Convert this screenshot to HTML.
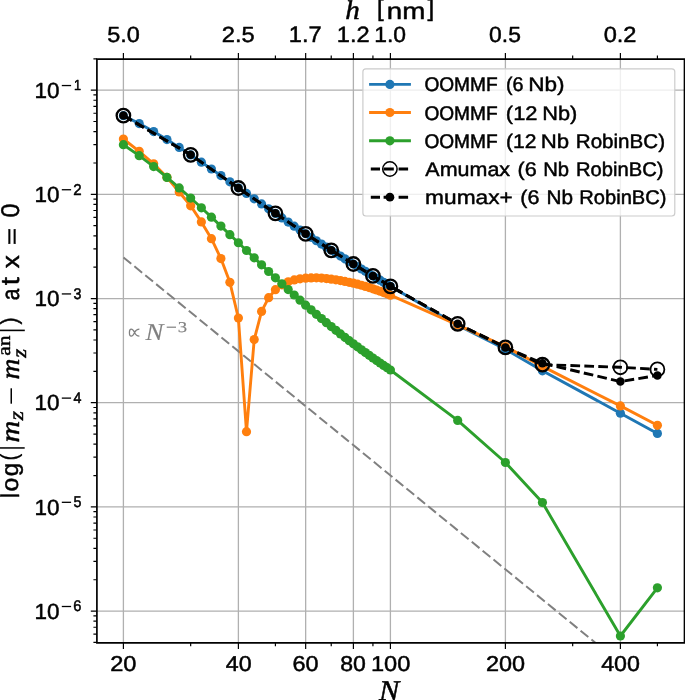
<!DOCTYPE html><html><head><meta charset="utf-8"><style>html,body{margin:0;padding:0;background:#fff;}svg{display:block}</style></head><body>
<svg width="685" height="700" viewBox="0 0 685 700" text-rendering="geometricPrecision">
<rect x="0" y="0" width="685" height="700" fill="#fff"/><g opacity="0.999">
<defs><clipPath id="ax"><rect x="96.9" y="59.05" width="587.6" height="583.8000000000001"/></clipPath></defs>
<path d="M123.4 59.05V642.85M238.39 59.05V642.85M305.66 59.05V642.85M353.39 59.05V642.85M390.41 59.05V642.85M505.4 59.05V642.85M620.39 59.05V642.85M96.9 90.15H684.5M96.9 194.34H684.5M96.9 298.53H684.5M96.9 402.72H684.5M96.9 506.91H684.5M96.9 611.1H684.5" stroke="#b0b0b0" stroke-width="1.3" fill="none"/>
<g clip-path="url(#ax)">
<path d="M123.5 257.45L700 728.22" stroke="#808080" stroke-width="2.0" stroke-dasharray="10.0 4.05" fill="none"/>
<g fill="#fff"><circle cx="123.4" cy="115.6" r="7.6"/><circle cx="190.67" cy="154.8" r="7.6"/><circle cx="238.39" cy="188" r="7.6"/><circle cx="275.41" cy="213.3" r="7.6"/><circle cx="305.66" cy="233.8" r="7.6"/><circle cx="331.23" cy="250.3" r="7.6"/><circle cx="353.39" cy="264" r="7.6"/><circle cx="372.93" cy="275.9" r="7.6"/><circle cx="390.41" cy="286.3" r="7.6"/><circle cx="457.67" cy="323.8" r="7.6"/><circle cx="505.4" cy="347.4" r="7.6"/><circle cx="542.42" cy="364.6" r="7.6"/></g>
<polyline points="123.4,115.63 139.21,123.53 153.65,131.59 166.93,139.59 179.22,147.39 190.67,154.91 201.37,162.13 211.43,169.02 220.91,175.59 229.88,181.84 238.39,187.78 246.49,193.43 254.21,198.81 261.58,203.93 268.64,208.8 275.41,213.45 281.92,217.88 288.18,222.12 294.21,226.17 300.04,230.04 305.66,233.76 311.1,237.32 316.37,240.74 321.47,244.03 326.42,247.2 331.23,250.26 335.91,253.2 340.45,256.05 344.88,258.8 349.19,261.47 353.39,264.05 357.48,266.55 361.48,268.98 365.38,271.35 369.2,273.65 372.93,275.88 376.57,278.07 380.14,280.2 383.63,282.28 387.05,284.31 390.41,286.3 457.67,325.3 505.4,349.3 542.42,370.8 620.39,413.2 657.41,433.4" stroke="#1f77b4" stroke-width="2.9" fill="none" stroke-linejoin="round"/>
<g fill="#1f77b4"><circle cx="123.4" cy="115.63" r="4.6"/><circle cx="139.21" cy="123.53" r="4.6"/><circle cx="153.65" cy="131.59" r="4.6"/><circle cx="166.93" cy="139.59" r="4.6"/><circle cx="179.22" cy="147.39" r="4.6"/><circle cx="190.67" cy="154.91" r="4.6"/><circle cx="201.37" cy="162.13" r="4.6"/><circle cx="211.43" cy="169.02" r="4.6"/><circle cx="220.91" cy="175.59" r="4.6"/><circle cx="229.88" cy="181.84" r="4.6"/><circle cx="238.39" cy="187.78" r="4.6"/><circle cx="246.49" cy="193.43" r="4.6"/><circle cx="254.21" cy="198.81" r="4.6"/><circle cx="261.58" cy="203.93" r="4.6"/><circle cx="268.64" cy="208.8" r="4.6"/><circle cx="275.41" cy="213.45" r="4.6"/><circle cx="281.92" cy="217.88" r="4.6"/><circle cx="288.18" cy="222.12" r="4.6"/><circle cx="294.21" cy="226.17" r="4.6"/><circle cx="300.04" cy="230.04" r="4.6"/><circle cx="305.66" cy="233.76" r="4.6"/><circle cx="311.1" cy="237.32" r="4.6"/><circle cx="316.37" cy="240.74" r="4.6"/><circle cx="321.47" cy="244.03" r="4.6"/><circle cx="326.42" cy="247.2" r="4.6"/><circle cx="331.23" cy="250.26" r="4.6"/><circle cx="335.91" cy="253.2" r="4.6"/><circle cx="340.45" cy="256.05" r="4.6"/><circle cx="344.88" cy="258.8" r="4.6"/><circle cx="349.19" cy="261.47" r="4.6"/><circle cx="353.39" cy="264.05" r="4.6"/><circle cx="357.48" cy="266.55" r="4.6"/><circle cx="361.48" cy="268.98" r="4.6"/><circle cx="365.38" cy="271.35" r="4.6"/><circle cx="369.2" cy="273.65" r="4.6"/><circle cx="372.93" cy="275.88" r="4.6"/><circle cx="376.57" cy="278.07" r="4.6"/><circle cx="380.14" cy="280.2" r="4.6"/><circle cx="383.63" cy="282.28" r="4.6"/><circle cx="387.05" cy="284.31" r="4.6"/><circle cx="390.41" cy="286.3" r="4.6"/><circle cx="457.67" cy="325.3" r="4.6"/><circle cx="505.4" cy="349.3" r="4.6"/><circle cx="542.42" cy="370.8" r="4.6"/><circle cx="620.39" cy="413.2" r="4.6"/><circle cx="657.41" cy="433.4" r="4.6"/></g>
<polyline points="123.4,139 139.21,151.3 153.65,163.8 166.93,177.3 179.22,192 190.67,205.8 201.37,221.9 211.43,238.7 220.91,258.6 229.88,282.3 238.39,318.1 246.49,431.7 254.21,339.6 261.58,311.4 268.64,297.7 275.41,289.7 281.92,284.8 288.18,281.8 294.21,279.9 300.04,278.8 305.66,278.2 311.1,277.92 316.37,277.8 321.47,278.04 326.42,278.59 331.23,279.2 335.91,279.84 340.45,280.58 344.88,281.41 349.19,282.29 353.39,283.2 357.48,284.19 361.48,285.27 365.38,286.42 369.2,287.61 372.93,288.8 376.57,290.01 380.14,291.27 383.63,292.55 387.05,293.87 390.41,295.2 457.67,324.8 505.4,346.6 542.42,366.4 620.39,405.9 657.41,425.3" stroke="#ff7f0e" stroke-width="2.9" fill="none" stroke-linejoin="round"/>
<g fill="#ff7f0e"><circle cx="123.4" cy="139" r="4.6"/><circle cx="139.21" cy="151.3" r="4.6"/><circle cx="153.65" cy="163.8" r="4.6"/><circle cx="166.93" cy="177.3" r="4.6"/><circle cx="179.22" cy="192" r="4.6"/><circle cx="190.67" cy="205.8" r="4.6"/><circle cx="201.37" cy="221.9" r="4.6"/><circle cx="211.43" cy="238.7" r="4.6"/><circle cx="220.91" cy="258.6" r="4.6"/><circle cx="229.88" cy="282.3" r="4.6"/><circle cx="238.39" cy="318.1" r="4.6"/><circle cx="246.49" cy="431.7" r="4.6"/><circle cx="254.21" cy="339.6" r="4.6"/><circle cx="261.58" cy="311.4" r="4.6"/><circle cx="268.64" cy="297.7" r="4.6"/><circle cx="275.41" cy="289.7" r="4.6"/><circle cx="281.92" cy="284.8" r="4.6"/><circle cx="288.18" cy="281.8" r="4.6"/><circle cx="294.21" cy="279.9" r="4.6"/><circle cx="300.04" cy="278.8" r="4.6"/><circle cx="305.66" cy="278.2" r="4.6"/><circle cx="311.1" cy="277.92" r="4.6"/><circle cx="316.37" cy="277.8" r="4.6"/><circle cx="321.47" cy="278.04" r="4.6"/><circle cx="326.42" cy="278.59" r="4.6"/><circle cx="331.23" cy="279.2" r="4.6"/><circle cx="335.91" cy="279.84" r="4.6"/><circle cx="340.45" cy="280.58" r="4.6"/><circle cx="344.88" cy="281.41" r="4.6"/><circle cx="349.19" cy="282.29" r="4.6"/><circle cx="353.39" cy="283.2" r="4.6"/><circle cx="357.48" cy="284.19" r="4.6"/><circle cx="361.48" cy="285.27" r="4.6"/><circle cx="365.38" cy="286.42" r="4.6"/><circle cx="369.2" cy="287.61" r="4.6"/><circle cx="372.93" cy="288.8" r="4.6"/><circle cx="376.57" cy="290.01" r="4.6"/><circle cx="380.14" cy="291.27" r="4.6"/><circle cx="383.63" cy="292.55" r="4.6"/><circle cx="387.05" cy="293.87" r="4.6"/><circle cx="390.41" cy="295.2" r="4.6"/><circle cx="457.67" cy="324.8" r="4.6"/><circle cx="505.4" cy="346.6" r="4.6"/><circle cx="542.42" cy="366.4" r="4.6"/><circle cx="620.39" cy="405.9" r="4.6"/><circle cx="657.41" cy="425.3" r="4.6"/></g>
<polyline points="123.4,144.69 139.21,155.66 153.65,166.61 166.93,177.39 179.22,187.88 190.67,198.03 201.37,207.8 211.43,217.16 220.91,226.11 229.88,234.64 238.39,242.77 246.49,250.51 254.21,257.87 261.58,264.87 268.64,271.52 275.41,277.84 281.92,283.86 288.18,289.57 294.21,295.02 300.04,300.2 305.66,305.13 311.1,309.83 316.37,314.32 321.47,318.6 326.42,322.68 331.23,326.59 335.91,330.33 340.45,333.92 344.88,337.35 349.19,340.65 353.39,343.81 357.48,346.86 361.48,349.79 365.38,352.62 369.2,355.34 372.93,357.98 376.57,360.53 380.14,363 383.63,365.39 387.05,367.72 390.41,369.98 457.67,420.4 505.4,462.5 542.42,502.6 620.39,636 657.41,587.8" stroke="#2ca02c" stroke-width="2.9" fill="none" stroke-linejoin="round"/>
<g fill="#2ca02c"><circle cx="123.4" cy="144.69" r="4.6"/><circle cx="139.21" cy="155.66" r="4.6"/><circle cx="153.65" cy="166.61" r="4.6"/><circle cx="166.93" cy="177.39" r="4.6"/><circle cx="179.22" cy="187.88" r="4.6"/><circle cx="190.67" cy="198.03" r="4.6"/><circle cx="201.37" cy="207.8" r="4.6"/><circle cx="211.43" cy="217.16" r="4.6"/><circle cx="220.91" cy="226.11" r="4.6"/><circle cx="229.88" cy="234.64" r="4.6"/><circle cx="238.39" cy="242.77" r="4.6"/><circle cx="246.49" cy="250.51" r="4.6"/><circle cx="254.21" cy="257.87" r="4.6"/><circle cx="261.58" cy="264.87" r="4.6"/><circle cx="268.64" cy="271.52" r="4.6"/><circle cx="275.41" cy="277.84" r="4.6"/><circle cx="281.92" cy="283.86" r="4.6"/><circle cx="288.18" cy="289.57" r="4.6"/><circle cx="294.21" cy="295.02" r="4.6"/><circle cx="300.04" cy="300.2" r="4.6"/><circle cx="305.66" cy="305.13" r="4.6"/><circle cx="311.1" cy="309.83" r="4.6"/><circle cx="316.37" cy="314.32" r="4.6"/><circle cx="321.47" cy="318.6" r="4.6"/><circle cx="326.42" cy="322.68" r="4.6"/><circle cx="331.23" cy="326.59" r="4.6"/><circle cx="335.91" cy="330.33" r="4.6"/><circle cx="340.45" cy="333.92" r="4.6"/><circle cx="344.88" cy="337.35" r="4.6"/><circle cx="349.19" cy="340.65" r="4.6"/><circle cx="353.39" cy="343.81" r="4.6"/><circle cx="357.48" cy="346.86" r="4.6"/><circle cx="361.48" cy="349.79" r="4.6"/><circle cx="365.38" cy="352.62" r="4.6"/><circle cx="369.2" cy="355.34" r="4.6"/><circle cx="372.93" cy="357.98" r="4.6"/><circle cx="376.57" cy="360.53" r="4.6"/><circle cx="380.14" cy="363" r="4.6"/><circle cx="383.63" cy="365.39" r="4.6"/><circle cx="387.05" cy="367.72" r="4.6"/><circle cx="390.41" cy="369.98" r="4.6"/><circle cx="457.67" cy="420.4" r="4.6"/><circle cx="505.4" cy="462.5" r="4.6"/><circle cx="542.42" cy="502.6" r="4.6"/><circle cx="620.39" cy="636" r="4.6"/><circle cx="657.41" cy="587.8" r="4.6"/></g>
<polyline points="123.4,115.6 190.67,154.8 238.39,188 275.41,213.3 305.66,233.8 331.23,250.3 353.39,264 372.93,275.9 390.41,286.3 457.67,323.8 505.4,347.4 542.42,364.6 620.39,367.3 657.41,369.4" stroke="#000" stroke-width="2.9" fill="none" stroke-dasharray="9.7 4.25"/>
<g fill="none" stroke="#000" stroke-width="2.3"><circle cx="123.4" cy="115.6" r="6.75"/><circle cx="190.67" cy="154.8" r="6.75"/><circle cx="238.39" cy="188" r="6.75"/><circle cx="275.41" cy="213.3" r="6.75"/><circle cx="305.66" cy="233.8" r="6.75"/><circle cx="331.23" cy="250.3" r="6.75"/><circle cx="353.39" cy="264" r="6.75"/><circle cx="372.93" cy="275.9" r="6.75"/><circle cx="390.41" cy="286.3" r="6.75"/><circle cx="457.67" cy="323.8" r="6.75"/><circle cx="505.4" cy="347.4" r="6.75"/><circle cx="542.42" cy="364.6" r="6.75"/></g>
<g fill="none" stroke="#000" stroke-width="1.8"><circle cx="620.39" cy="367.3" r="6.95"/><circle cx="657.41" cy="369.4" r="6.95"/></g>
<polyline points="123.4,115.6 190.67,154.8 238.39,188 275.41,213.3 305.66,233.8 331.23,250.3 353.39,264 372.93,275.9 390.41,286.3 457.67,323.8 505.4,347.4 542.42,363.2 620.39,381.6 657.41,375.4" stroke="#000" stroke-width="2.9" fill="none" stroke-dasharray="9.7 4.25"/>
<g fill="#000"><circle cx="123.4" cy="115.6" r="4.25"/><circle cx="190.67" cy="154.8" r="4.25"/><circle cx="238.39" cy="188" r="4.25"/><circle cx="275.41" cy="213.3" r="4.25"/><circle cx="305.66" cy="233.8" r="4.25"/><circle cx="331.23" cy="250.3" r="4.25"/><circle cx="353.39" cy="264" r="4.25"/><circle cx="372.93" cy="275.9" r="4.25"/><circle cx="390.41" cy="286.3" r="4.25"/><circle cx="457.67" cy="323.8" r="4.25"/><circle cx="505.4" cy="347.4" r="4.25"/><circle cx="542.42" cy="363.2" r="4.25"/><circle cx="620.39" cy="381.6" r="4.25"/><circle cx="657.41" cy="375.4" r="4.25"/></g>
</g>
<rect x="362.9" y="68.8" width="311.9" height="147.2" rx="3" ry="3" fill="#fff" fill-opacity="0.8" stroke="#cccccc" stroke-width="1.2"/>
<path d="M369.1 84.4H410.9" stroke="#1f77b4" stroke-width="2.9"/><circle cx="389.9" cy="84.4" r="4.6" fill="#1f77b4"/>
<path d="M369.1 112.5H410.9" stroke="#ff7f0e" stroke-width="2.9"/><circle cx="389.9" cy="112.5" r="4.6" fill="#ff7f0e"/>
<path d="M369.1 140.8H410.9" stroke="#2ca02c" stroke-width="2.9"/><circle cx="389.9" cy="140.8" r="4.6" fill="#2ca02c"/>
<path d="M370.8 169.0H380M383.6 169.0H393.8M398.6 169.0H408.1" stroke="#000" stroke-width="2.9"/>
<circle cx="389.9" cy="169.0" r="7.2" fill="none" stroke="#000" stroke-width="1.5"/>
<path d="M370.8 197.2H380M383.6 197.2H393.8M398.6 197.2H408.1" stroke="#000" stroke-width="2.9"/>
<circle cx="389.9" cy="197.2" r="4.4" fill="#000"/>
<path d="M96.9 59.05V642.85H684.5V59.05Z" stroke="#000" stroke-width="1.7" fill="none"/>
<path d="M123.4 642.85v6.1M123.4 59.05v-6.1M238.39 642.85v6.1M238.39 59.05v-6.1M305.66 642.85v6.1M305.66 59.05v-6.1M353.39 642.85v6.1M353.39 59.05v-6.1M390.41 642.85v6.1M390.41 59.05v-6.1M505.4 642.85v6.1M505.4 59.05v-6.1M620.39 642.85v6.1M620.39 59.05v-6.1M190.67 642.85v3.5M190.67 59.05v-3.5M275.41 642.85v3.5M275.41 59.05v-3.5M331.23 642.85v3.5M331.23 59.05v-3.5M372.93 642.85v3.5M372.93 59.05v-3.5M572.67 642.85v3.5M572.67 59.05v-3.5M657.41 642.85v3.5M657.41 59.05v-3.5M96.9 90.15h-6.1M96.9 194.34h-6.1M96.9 298.53h-6.1M96.9 402.72h-6.1M96.9 506.91h-6.1M96.9 611.1h-6.1M96.9 642.46h-3.5M96.9 634.21h-3.5M96.9 627.24h-3.5M96.9 621.2h-3.5M96.9 615.87h-3.5M96.9 579.74h-3.5M96.9 561.39h-3.5M96.9 548.37h-3.5M96.9 538.27h-3.5M96.9 530.02h-3.5M96.9 523.05h-3.5M96.9 517.01h-3.5M96.9 511.68h-3.5M96.9 475.55h-3.5M96.9 457.2h-3.5M96.9 444.18h-3.5M96.9 434.08h-3.5M96.9 425.83h-3.5M96.9 418.86h-3.5M96.9 412.82h-3.5M96.9 407.49h-3.5M96.9 371.36h-3.5M96.9 353.01h-3.5M96.9 339.99h-3.5M96.9 329.89h-3.5M96.9 321.64h-3.5M96.9 314.67h-3.5M96.9 308.63h-3.5M96.9 303.3h-3.5M96.9 267.17h-3.5M96.9 248.82h-3.5M96.9 235.8h-3.5M96.9 225.7h-3.5M96.9 217.45h-3.5M96.9 210.48h-3.5M96.9 204.44h-3.5M96.9 199.11h-3.5M96.9 162.98h-3.5M96.9 144.63h-3.5M96.9 131.61h-3.5M96.9 121.51h-3.5M96.9 113.26h-3.5M96.9 106.29h-3.5M96.9 100.25h-3.5M96.9 94.92h-3.5M96.9 58.79h-3.5" stroke="#000" stroke-width="1.2" fill="none"/>
<text transform="matrix(0.11780,0,0,0.10775,110.17,670.58)" font-family='"Liberation Sans", sans-serif' font-size="200" fill="#000" stroke="#000" stroke-width="4.434" stroke-linejoin="round">20</text>
<text transform="matrix(0.11611,0,0,0.10775,225.74,670.58)" font-family='"Liberation Sans", sans-serif' font-size="200" fill="#000" stroke="#000" stroke-width="4.467" stroke-linejoin="round">40</text>
<text transform="matrix(0.11756,0,0,0.10775,292.52,670.58)" font-family='"Liberation Sans", sans-serif' font-size="200" fill="#000" stroke="#000" stroke-width="4.438" stroke-linejoin="round">60</text>
<text transform="matrix(0.11505,0,0,0.10775,340.26,670.58)" font-family='"Liberation Sans", sans-serif' font-size="200" fill="#000" stroke="#000" stroke-width="4.488" stroke-linejoin="round">80</text>
<text transform="matrix(0.11768,0,0,0.10775,371.03,670.58)" font-family='"Liberation Sans", sans-serif' font-size="200" fill="#000" stroke="#000" stroke-width="4.436" stroke-linejoin="round">100</text>
<text transform="matrix(0.11709,0,0,0.10775,485.93,670.58)" font-family='"Liberation Sans", sans-serif' font-size="200" fill="#000" stroke="#000" stroke-width="4.448" stroke-linejoin="round">200</text>
<text transform="matrix(0.11646,0,0,0.10775,601.13,670.58)" font-family='"Liberation Sans", sans-serif' font-size="200" fill="#000" stroke="#000" stroke-width="4.460" stroke-linejoin="round">400</text>
<text transform="matrix(0.11673,0,0,0.10915,107.37,42.18)" font-family='"Liberation Sans", sans-serif' font-size="200" fill="#000" stroke="#000" stroke-width="4.427" stroke-linejoin="round">5.0</text>
<text transform="matrix(0.11808,0,0,0.10915,221.82,42.18)" font-family='"Liberation Sans", sans-serif' font-size="200" fill="#000" stroke="#000" stroke-width="4.401" stroke-linejoin="round">2.5</text>
<text transform="matrix(0.11818,0,0,0.11232,288.83,42.40)" font-family='"Liberation Sans", sans-serif' font-size="200" fill="#000" stroke="#000" stroke-width="4.338" stroke-linejoin="round">1.7</text>
<text transform="matrix(0.11818,0,0,0.11071,336.83,42.40)" font-family='"Liberation Sans", sans-serif' font-size="200" fill="#000" stroke="#000" stroke-width="4.369" stroke-linejoin="round">1.2</text>
<text transform="matrix(0.11445,0,0,0.10915,374.28,42.18)" font-family='"Liberation Sans", sans-serif' font-size="200" fill="#000" stroke="#000" stroke-width="4.472" stroke-linejoin="round">1.0</text>
<text transform="matrix(0.11450,0,0,0.10915,489.08,42.18)" font-family='"Liberation Sans", sans-serif' font-size="200" fill="#000" stroke="#000" stroke-width="4.471" stroke-linejoin="round">0.5</text>
<text transform="matrix(0.11769,0,0,0.10915,603.66,42.18)" font-family='"Liberation Sans", sans-serif' font-size="200" fill="#000" stroke="#000" stroke-width="4.408" stroke-linejoin="round">0.2</text>
<text transform="matrix(0.11250,0,0,0.10915,34.51,97.78)" font-family='"Liberation Sans", sans-serif' font-size="200" fill="#000" stroke="#000" stroke-width="4.512" stroke-linejoin="round">10</text>
<rect x="61.8" y="84.90" width="9.3" height="1.3" fill="#000"/>
<text transform="matrix(0.06322,0,0,0.07319,74.05,90.05)" font-family='"Liberation Sans", sans-serif' font-size="200" fill="#000" stroke="#000" stroke-width="7.331" stroke-linejoin="round">1</text>
<text transform="matrix(0.11250,0,0,0.10915,34.51,201.97)" font-family='"Liberation Sans", sans-serif' font-size="200" fill="#000" stroke="#000" stroke-width="4.512" stroke-linejoin="round">10</text>
<rect x="61.8" y="189.09" width="9.3" height="1.3" fill="#000"/>
<text transform="matrix(0.07473,0,0,0.07857,73.25,194.54)" font-family='"Liberation Sans", sans-serif' font-size="200" fill="#000" stroke="#000" stroke-width="6.523" stroke-linejoin="round">2</text>
<text transform="matrix(0.11250,0,0,0.10915,34.51,306.16)" font-family='"Liberation Sans", sans-serif' font-size="200" fill="#000" stroke="#000" stroke-width="4.512" stroke-linejoin="round">10</text>
<rect x="61.8" y="293.28" width="9.3" height="1.3" fill="#000"/>
<text transform="matrix(0.07158,0,0,0.07746,73.43,298.58)" font-family='"Liberation Sans", sans-serif' font-size="200" fill="#000" stroke="#000" stroke-width="6.709" stroke-linejoin="round">3</text>
<text transform="matrix(0.11250,0,0,0.10915,34.51,410.35)" font-family='"Liberation Sans", sans-serif' font-size="200" fill="#000" stroke="#000" stroke-width="4.512" stroke-linejoin="round">10</text>
<rect x="61.8" y="397.47" width="9.3" height="1.3" fill="#000"/>
<text transform="matrix(0.07129,0,0,0.07609,73.51,402.72)" font-family='"Liberation Sans", sans-serif' font-size="200" fill="#000" stroke="#000" stroke-width="6.785" stroke-linejoin="round">4</text>
<text transform="matrix(0.11250,0,0,0.10915,34.51,514.54)" font-family='"Liberation Sans", sans-serif' font-size="200" fill="#000" stroke="#000" stroke-width="4.512" stroke-linejoin="round">10</text>
<rect x="61.8" y="501.66" width="9.3" height="1.3" fill="#000"/>
<text transform="matrix(0.07158,0,0,0.07857,73.43,506.95)" font-family='"Liberation Sans", sans-serif' font-size="200" fill="#000" stroke="#000" stroke-width="6.660" stroke-linejoin="round">5</text>
<text transform="matrix(0.11250,0,0,0.10915,34.51,618.73)" font-family='"Liberation Sans", sans-serif' font-size="200" fill="#000" stroke="#000" stroke-width="4.512" stroke-linejoin="round">10</text>
<rect x="61.8" y="605.85" width="9.3" height="1.3" fill="#000"/>
<text transform="matrix(0.07312,0,0,0.07746,73.27,611.15)" font-family='"Liberation Sans", sans-serif' font-size="200" fill="#000" stroke="#000" stroke-width="6.641" stroke-linejoin="round">6</text>
<text transform="matrix(0.15208,0,0,0.14275,379.05,700.20)" font-family='"Liberation Serif", serif' font-style="italic" font-size="200" fill="#000" stroke="#000" stroke-width="3.392" stroke-linejoin="round">N</text>
<text transform="matrix(0.14588,0,0,0.13453,345.18,18.50)" font-family='"Liberation Serif", serif' font-style="italic" font-size="200" fill="#000" stroke="#000" stroke-width="3.566" stroke-linejoin="round">h</text>
<text transform="matrix(0.12000,0,0,0.11872,376.92,16.41)" font-family='"Liberation Sans", sans-serif' font-size="200" fill="#000" stroke="#000" stroke-width="4.189" stroke-linejoin="round">[</text>
<text transform="matrix(0.13849,0,0,0.11574,386.80,18.50)" font-family='"Liberation Sans", sans-serif' font-size="200" fill="#000" stroke="#000" stroke-width="3.933" stroke-linejoin="round">nm</text>
<text transform="matrix(0.12000,0,0,0.11872,427.38,16.41)" font-family='"Liberation Sans", sans-serif' font-size="200" fill="#000" stroke="#000" stroke-width="4.189" stroke-linejoin="round">]</text>
<path d="M139.4 329.2Q136.2 329.2 134.6 332.6Q133 336.2 131.2 336.2Q129.4 336.2 129.4 332.7Q129.4 329.2 131.2 329.2Q133 329.2 134.6 332.6Q136.2 336.2 139.4 336.2" stroke="#808080" stroke-width="1.25" fill="none"/>
<text transform="matrix(0.13507,0,0,0.12099,145.46,339.77)" font-family='"Liberation Serif", serif' font-style="italic" font-size="200" fill="#808080" stroke="#808080" stroke-width="1.172" stroke-linejoin="round">N</text>
<rect x="166.7" y="326.6" width="9.3" height="1.2" fill="#808080"/>
<text transform="matrix(0.09337,0,0,0.07500,177.78,331.52)" font-family='"Liberation Serif", serif' font-size="200" fill="#808080" stroke="#808080" stroke-width="1.782" stroke-linejoin="round">3</text>
<text transform="translate(424.39,91.40) scale(0.9655,1)" font-family='"Liberation Sans", sans-serif' font-size="19.8" fill="#000" stroke="#000" stroke-width="0.518" stroke-linejoin="round">OOMMF</text>
<text transform="translate(505.97,91.40) scale(0.9972,1)" font-family='"Liberation Sans", sans-serif' font-size="19.8" fill="#000" stroke="#000" stroke-width="0.501" stroke-linejoin="round">(6</text>
<text transform="translate(528.24,91.40) scale(1.1407,1)" font-family='"Liberation Sans", sans-serif' font-size="19.8" fill="#000" stroke="#000" stroke-width="0.438" stroke-linejoin="round">Nb)</text>
<text transform="translate(424.39,119.70) scale(0.9655,1)" font-family='"Liberation Sans", sans-serif' font-size="19.8" fill="#000" stroke="#000" stroke-width="0.518" stroke-linejoin="round">OOMMF</text>
<text transform="translate(505.83,119.70) scale(1.1081,1)" font-family='"Liberation Sans", sans-serif' font-size="19.8" fill="#000" stroke="#000" stroke-width="0.451" stroke-linejoin="round">(12</text>
<text transform="translate(542.31,119.70) scale(1.0994,1)" font-family='"Liberation Sans", sans-serif' font-size="19.8" fill="#000" stroke="#000" stroke-width="0.455" stroke-linejoin="round">Nb)</text>
<text transform="translate(424.39,148.20) scale(0.9655,1)" font-family='"Liberation Sans", sans-serif' font-size="19.8" fill="#000" stroke="#000" stroke-width="0.518" stroke-linejoin="round">OOMMF</text>
<text transform="translate(505.98,148.20) scale(1.0666,1)" font-family='"Liberation Sans", sans-serif' font-size="19.8" fill="#000" stroke="#000" stroke-width="0.469" stroke-linejoin="round">(12</text>
<text transform="translate(540.77,148.20) scale(1.1233,1)" font-family='"Liberation Sans", sans-serif' font-size="19.8" fill="#000" stroke="#000" stroke-width="0.445" stroke-linejoin="round">Nb</text>
<text transform="translate(575.80,148.20) scale(1.0402,1)" font-family='"Liberation Sans", sans-serif' font-size="19.8" fill="#000" stroke="#000" stroke-width="0.481" stroke-linejoin="round">RobinBC)</text>
<text transform="translate(425.35,176.10) scale(1.0857,1)" font-family='"Liberation Sans", sans-serif' font-size="19.8" fill="#000" stroke="#000" stroke-width="0.461" stroke-linejoin="round">Amumax</text>
<text transform="translate(517.45,176.10) scale(1.0943,1)" font-family='"Liberation Sans", sans-serif' font-size="19.8" fill="#000" stroke="#000" stroke-width="0.457" stroke-linejoin="round">(6</text>
<text transform="translate(543.13,176.10) scale(1.0232,1)" font-family='"Liberation Sans", sans-serif' font-size="19.8" fill="#000" stroke="#000" stroke-width="0.489" stroke-linejoin="round">Nb</text>
<text transform="translate(576.03,176.10) scale(1.0197,1)" font-family='"Liberation Sans", sans-serif' font-size="19.8" fill="#000" stroke="#000" stroke-width="0.490" stroke-linejoin="round">RobinBC)</text>
<text transform="translate(425.06,203.90) scale(1.1488,1)" font-family='"Liberation Sans", sans-serif' font-size="19.8" fill="#000" stroke="#000" stroke-width="0.435" stroke-linejoin="round">mumax+</text>
<text transform="translate(520.26,203.90) scale(1.0878,1)" font-family='"Liberation Sans", sans-serif' font-size="19.8" fill="#000" stroke="#000" stroke-width="0.460" stroke-linejoin="round">(6</text>
<text transform="translate(546.39,203.90) scale(1.0493,1)" font-family='"Liberation Sans", sans-serif' font-size="19.8" fill="#000" stroke="#000" stroke-width="0.477" stroke-linejoin="round">Nb</text>
<text transform="translate(579.34,203.90) scale(1.0161,1)" font-family='"Liberation Sans", sans-serif' font-size="19.8" fill="#000" stroke="#000" stroke-width="0.492" stroke-linejoin="round">RobinBC)</text>
<text transform="matrix(0,-0.10000,0.12897,0,18.50,497.70)" font-family='"Liberation Sans", sans-serif' font-size="200" fill="#000" stroke="#000" stroke-width="4.367" stroke-linejoin="round">l</text>
<text transform="matrix(0,-0.12421,0.11909,0,18.46,491.59)" font-family='"Liberation Sans", sans-serif' font-size="200" fill="#000" stroke="#000" stroke-width="4.110" stroke-linejoin="round">o</text>
<text transform="matrix(0,-0.12000,0.11946,0,18.38,476.16)" font-family='"Liberation Sans", sans-serif' font-size="200" fill="#000" stroke="#000" stroke-width="4.176" stroke-linejoin="round">g</text>
<text transform="matrix(0,-0.09434,0.11604,0,16.83,460.23)" font-family='"Liberation Sans", sans-serif' font-size="200" fill="#000" stroke="#000" stroke-width="4.753" stroke-linejoin="round">(</text>
<text transform="matrix(0,-0.15116,0.13511,0,18.50,442.56)" font-family='"Liberation Serif", serif' font-style="italic" font-size="200" fill="#000" stroke="#000" stroke-width="3.493" stroke-linejoin="round">m</text>
<text transform="matrix(0,-0.11948,0.10326,0,23.00,420.36)" font-family='"Liberation Serif", serif' font-style="italic" font-size="200" fill="#000" stroke="#000" stroke-width="4.490" stroke-linejoin="round">z</text>
<text transform="matrix(0,-0.14419,0.13298,0,19.00,379.61)" font-family='"Liberation Serif", serif' font-style="italic" font-size="200" fill="#000" stroke="#000" stroke-width="3.608" stroke-linejoin="round">m</text>
<text transform="matrix(0,-0.10782,0.09271,0,10.31,355.75)" font-family='"Liberation Serif", serif' font-size="200" fill="#000" stroke="#000" stroke-width="4.987" stroke-linejoin="round">an</text>
<text transform="matrix(0,-0.11558,0.10326,0,25.70,357.77)" font-family='"Liberation Serif", serif' font-style="italic" font-size="200" fill="#000" stroke="#000" stroke-width="4.569" stroke-linejoin="round">z</text>
<text transform="matrix(0,-0.10755,0.11711,0,16.98,324.51)" font-family='"Liberation Sans", sans-serif' font-size="200" fill="#000" stroke="#000" stroke-width="4.451" stroke-linejoin="round">)</text>
<text transform="matrix(0,-0.10485,0.12364,0,18.85,300.14)" font-family='"Liberation Sans", sans-serif' font-size="200" fill="#000" stroke="#000" stroke-width="4.377" stroke-linejoin="round">a</text>
<text transform="matrix(0,-0.14706,0.13106,0,18.84,285.34)" font-family='"Liberation Sans", sans-serif' font-size="200" fill="#000" stroke="#000" stroke-width="3.596" stroke-linejoin="round">t</text>
<text transform="matrix(0,-0.13125,0.12264,0,19.10,268.26)" font-family='"Liberation Sans", sans-serif' font-size="200" fill="#000" stroke="#000" stroke-width="3.939" stroke-linejoin="round">x</text>
<text transform="matrix(0,-0.15052,0.10615,0,18.50,245.31)" font-family='"Liberation Sans", sans-serif' font-size="200" fill="#000" stroke="#000" stroke-width="3.896" stroke-linejoin="round">=</text>
<text transform="matrix(0,-0.12604,0.12817,0,18.84,217.61)" font-family='"Liberation Sans", sans-serif' font-size="200" fill="#000" stroke="#000" stroke-width="3.934" stroke-linejoin="round">0</text>
<rect x="-0.5" y="447.2" width="25.2" height="1.5" fill="#000"/>
<rect x="-0.5" y="329.6" width="25.3" height="1.6" fill="#000"/>
<rect x="10.5" y="388.3" width="1.5" height="15.4" fill="#000"/>
</g></svg></body></html>
